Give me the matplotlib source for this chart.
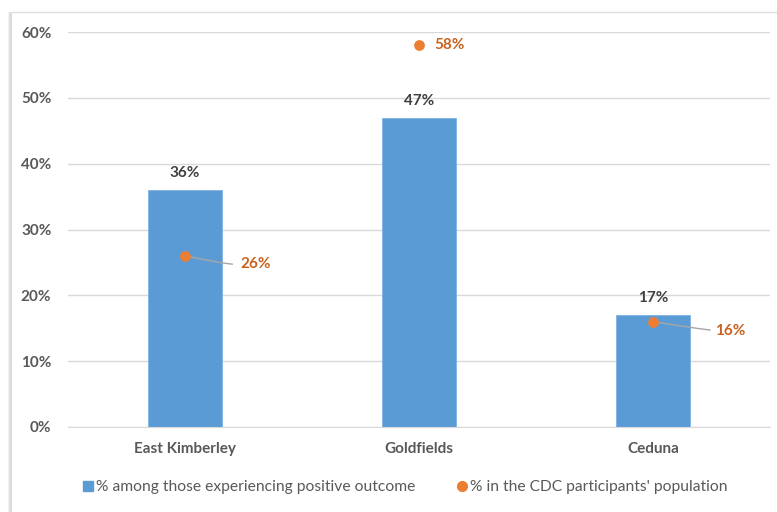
import matplotlib
matplotlib.use("Agg")
import matplotlib.pyplot as plt
from matplotlib.lines import Line2D
from matplotlib.transforms import offset_copy
import numpy as np

categories = ["East Kimberley", "Goldfields", "Ceduna"]
positive_outcome = [36, 47, 17]
cdc_population = [26, 58, 16]
y_ticks = [0, 10, 20, 30, 40, 50, 60]
series_names = ["% among those experiencing positive outcome",
                "% in the CDC participants' population"]

BLUE = "#5b9bd5"
ORANGE = "#ed7d31"
ORANGE_TXT = "#c8621e"
GREY_TXT = "#595959"
GRID = "#d9d9d9"

plt.rcParams["font.family"] = ["Lato", "DejaVu Sans"]

W, H = 777, 512
fig = plt.figure(figsize=(W / 100, H / 100), dpi=100)
fig.patch.set_facecolor("white")

# chart-area frame with a soft shadow on the left
for i, c in enumerate(["#eeeeee", "#e2e2e2", "#d6d6d6"]):
    fig.add_artist(Line2D([(9 + i) / W] * 2, [0, 1 - 13 / H],
                          transform=fig.transFigure, color=c, lw=1.2))
fig.add_artist(Line2D([12 / W, 1], [1 - 12 / H] * 2,
                      transform=fig.transFigure, color="#dcdcdc", lw=1))

ax = fig.add_axes([68 / W, 1 - 427 / H, (770 - 68) / W, (427 - 32) / H])
x = np.arange(len(categories))
ax.bar(x, positive_outcome, width=0.316, color=BLUE,
       edgecolor="#7fb2e0", linewidth=0.6, zorder=2)
ax.scatter(x, cdc_population, s=60, color=ORANGE, zorder=4, linewidths=0)

ax.set_xlim(-0.5, len(categories) - 0.5)
ax.set_ylim(0, 60)
ax.set_yticks(y_ticks)
ax.set_yticklabels([f"{v}%" for v in y_ticks])
ax.set_xticks(x)
ax.set_xticklabels(categories)
ax.tick_params(length=0, labelsize=11, labelcolor=GREY_TXT)
ax.tick_params(axis="y", pad=12)
ax.tick_params(axis="x", pad=11)
for lbl in ax.get_xticklabels() + ax.get_yticklabels():
    lbl.set_fontweight("bold")
ax.grid(axis="y", color=GRID, lw=1, zorder=0)
for s in ["top", "right", "left"]:
    ax.spines[s].set_visible(False)
ax.spines["bottom"].set_color(GRID)
ax.spines["bottom"].set_zorder(3)

# bar value labels
for xi, v in zip(x, positive_outcome):
    ax.annotate(f"{v}%", (xi, v), xytext=(0, 7), textcoords="offset points",
                ha="center", va="bottom", fontsize=11, fontweight="bold",
                color="#404040")

# point value labels, offset to the right; displaced ones get a leader line
label_offsets = [(40, -6), (11, 0), (45, -7)]
leader_paths = [[(0, 0), (26, -5), (34, -6)], None,
                [(0, 0), (33, -5), (41, -6)]]
for xi, v, off, path in zip(x, cdc_population, label_offsets, leader_paths):
    ax.annotate(f"{v}%", (xi, v), xytext=off, textcoords="offset points",
                ha="left", va="center", fontsize=11, fontweight="bold",
                color=ORANGE_TXT, zorder=5)
    if path:
        pts = np.array([
            offset_copy(ax.transData, fig=fig, x=dx, y=dy,
                        units="points").transform((xi, v))
            for dx, dy in path])
        ax.add_artist(Line2D(pts[:, 0], pts[:, 1], transform=None,
                             color="#a6a6a6", lw=1, zorder=3))

handles = [Line2D([], [], marker="s", ls="", color=BLUE, markersize=7),
           Line2D([], [], marker="o", ls="", color=ORANGE, markersize=7)]
leg = fig.legend(handles, series_names, loc="center", ncol=2,
                 bbox_to_anchor=(404 / W, 1 - 487 / H), frameon=False,
                 fontsize=11.25, handletextpad=0.0, columnspacing=2.5,
                 handlelength=1.0)
for t in leg.get_texts():
    t.set_color(GREY_TXT)

fig.savefig("out.png", dpi=100)
